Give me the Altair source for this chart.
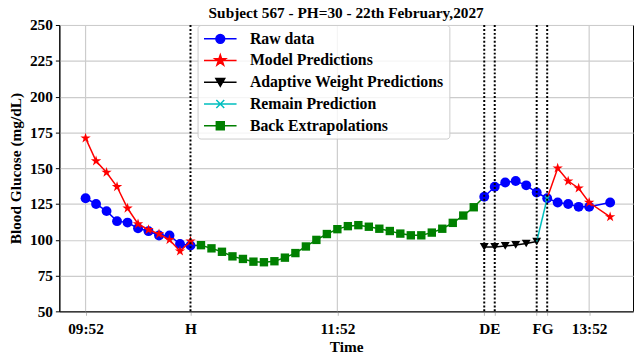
import math
import altair as alt
import pandas as pd

# ---------------- data (x = 5-minute step index from 09:52) ----------------
tick_pos = [0, 10, 24, 38, 39, 43, 44, 48]
tick_lab = ["09:52", "H", "11:52", "D", "E", "F", "G", "13:52"]
grid_pos = [0, 24, 48]
event_pos = [10, 38, 39, 43, 44]

raw_idx = [0, 1, 2, 3, 4, 5, 6, 7, 8, 9, 10,
           38, 39, 40, 41, 42, 43, 44, 45, 46, 47, 48, 50]
raw_val = [129, 125, 120, 113, 112, 108, 106, 103, 103, 97, 96,
           130, 137, 140, 141, 138, 133, 129, 126, 125, 123, 123, 126]

model_idx = [0, 1, 2, 3, 4, 5, 6, 7, 8, 9, 10,
             44, 45, 46, 47, 48, 50]
model_val = [171, 155, 147, 137, 122, 111, 107, 104, 100, 92, 99,
             129, 150, 141, 136, 126, 116]

adaptive_idx = [38, 39, 40, 41, 42, 43]
adaptive_val = [95, 95, 95.7, 96.4, 97.4, 98.8]

remain_idx = [43, 44]
remain_val = [98.8, 129]

back_idx = list(range(10, 39))
back_val = [96, 96.2, 94, 91.6, 88.4, 86.6, 84.7, 84.3, 85, 87.5, 90.7, 95.3,
            99.9, 104, 107.4, 109.5, 110.2, 109.1, 107.7, 106.1, 104.3, 103.1,
            103.1, 105, 107.7, 111.8, 116.9, 122.7, 130]

series_names = ["Raw data", "Model Predictions", "Adaptive Weight Predictions",
                "Remain Prediction", "Back Extrapolations"]
series_colors = ["#0000ff", "#ff0000", "#000000", "#00bfbf", "#008000"]

# ---------------- styling helpers ----------------
FONT = "Liberation Serif"
FS = 15.5


def star_path(R, r):
    pts = []
    for k in range(10):
        ang = -math.pi / 2 + k * math.pi / 5
        rad = R if k % 2 == 0 else r
        pts.append(f"{rad*math.cos(ang):.3f},{rad*math.sin(ang):.3f}")
    return "M" + "L".join(pts) + "Z"


def circle_path(r):
    return f"M{r},0A{r},{r},0,1,1,{-r},0A{r},{r},0,1,1,{r},0Z"


STAR = star_path(1, 0.382)
XMARK = "M-1,-1L1,1M-1,1L1,-1"

LINE = "M-2.06,0H2.06"
legend_paths = [
    LINE + circle_path(0.56),
    LINE + star_path(0.72, 0.28),
    LINE + "M0,0.49L-0.56,-0.49L0.56,-0.49Z",
    LINE + "M-0.5,-0.5L0.5,0.5M-0.5,0.5L0.5,-0.5",
    LINE + "M-0.5,-0.5H0.5V0.5H-0.5Z",
]


def seg_frame(idx, val):
    seg, s = [], 0
    for i, x in enumerate(idx):
        if i > 0 and x - idx[i - 1] > 2:
            s += 1
        seg.append(s)
    return pd.DataFrame({"t": idx, "v": val, "seg": seg})


raw_df = seg_frame(raw_idx, raw_val)
model_df = seg_frame(model_idx, model_val)
model_pts = model_df[model_df["t"] != remain_idx[-1]]
adapt_df = seg_frame(adaptive_idx, adaptive_val)
remain_df = seg_frame(remain_idx, remain_val)
remain_pts = remain_df.iloc[1:]
back_df = seg_frame(back_idx, back_val)
back_pts = back_df.iloc[1:-1]

label_expr = " : ".join(
    f"datum.value == {p} ? '{l}'" for p, l in zip(tick_pos, tick_lab)) + " : ''"

xs = alt.Scale(domain=[-2.5, 52.18], nice=False, zero=False)
ys = alt.Scale(domain=[50, 250], nice=False, zero=False)

X = alt.X("t:Q", scale=xs, title="Time",
          axis=alt.Axis(values=tick_pos, labelExpr=label_expr, grid=False,
                        labelOverlap=False, labelFlush=False, tickSize=4,
                        tickColor="#bbbbbb", domainColor="black",
                        labelPadding=6, titlePadding=3))
Y = alt.Y("v:Q", scale=ys, title="Blood Glucose (mg/dL)",
          axis=alt.Axis(values=list(range(50, 251, 25)), grid=True,
                        gridColor="#cccccc", gridWidth=1.2, tickSize=4,
                        tickColor="black", domainColor="black",
                        labelPadding=3, titlePadding=6))


def line_layer(df, color):
    return alt.Chart(df).mark_line(color=color, strokeWidth=1.5).encode(
        x=X, y=Y, detail="seg:N")


def point_layer(df, color, shape, size, filled=True):
    return alt.Chart(df).mark_point(
        shape=shape, size=size, filled=filled, color=color, opacity=1,
        strokeWidth=1.5).encode(x=X, y=Y)


grid_rules = alt.Chart(pd.DataFrame({"t": grid_pos})).mark_rule(
    color="#cccccc", strokeWidth=1.2).encode(x=alt.X("t:Q", scale=xs))
event_rules = alt.Chart(pd.DataFrame({"t": event_pos})).mark_rule(
    color="black", strokeWidth=2, strokeDash=[2, 2]).encode(
    x=alt.X("t:Q", scale=xs))

leg = alt.Legend(title=None, orient="none", legendX=140, legendY=0,
                 labelFont=FONT, labelFontWeight="bold", labelFontSize=16,
                 labelColor="black", symbolSize=256, symbolStrokeWidth=1.5,
                 symbolOpacity=1, symbolOffset=9, labelOffset=21,
                 padding=5, rowPadding=5, fillColor="rgba(255,255,255,0.8)",
                 strokeColor="#cccccc", cornerRadius=3, labelLimit=400)
legend_df = pd.DataFrame({"series": series_names})
sc_fill = alt.Scale(domain=series_names, range=series_colors)
legend_layer = alt.Chart(legend_df).mark_point(filled=True, opacity=0).encode(
    fill=alt.Fill("series:N", scale=sc_fill, legend=leg, sort=series_names),
    stroke=alt.Stroke("series:N", scale=sc_fill, legend=leg, sort=series_names),
    shape=alt.Shape("series:N", scale=alt.Scale(domain=series_names,
                                                range=legend_paths),
                    legend=leg, sort=series_names),
)

chart = alt.layer(
    grid_rules,
    line_layer(back_df, "#008000"),
    point_layer(back_pts, "#008000", "square", 72),
    line_layer(raw_df, "#0000ff"),
    point_layer(raw_df, "#0000ff", "circle", 100),
    line_layer(model_df, "#ff0000"),
    point_layer(model_pts, "#ff0000", STAR, 121),
    line_layer(adapt_df, "#000000"),
    point_layer(adapt_df, "#000000", "triangle-down", 81),
    line_layer(remain_df, "#00bfbf"),
    point_layer(remain_pts, "#00bfbf", XMARK, 20, filled=False),
    event_rules,
    legend_layer,
).properties(
    width=581, height=290,
    autosize=alt.AutoSizeParams(type="none"),
    padding={"left": 52, "top": 15, "right": 1, "bottom": 42},
    title=alt.TitleParams("Subject 567 - PH=30 - 22th February,2027",
                          font=FONT, fontWeight="bold", fontSize=FS,
                          color="black", anchor="middle", offset=0, dy=3),
).configure_view(stroke="black", strokeWidth=1).configure_axis(
    labelFont=FONT, titleFont=FONT, labelFontWeight="bold",
    titleFontWeight="bold", labelFontSize=FS, titleFontSize=FS,
    labelColor="black", titleColor="black")

chart.save("out.html", embed_options={"renderer": "svg", "actions": False})
